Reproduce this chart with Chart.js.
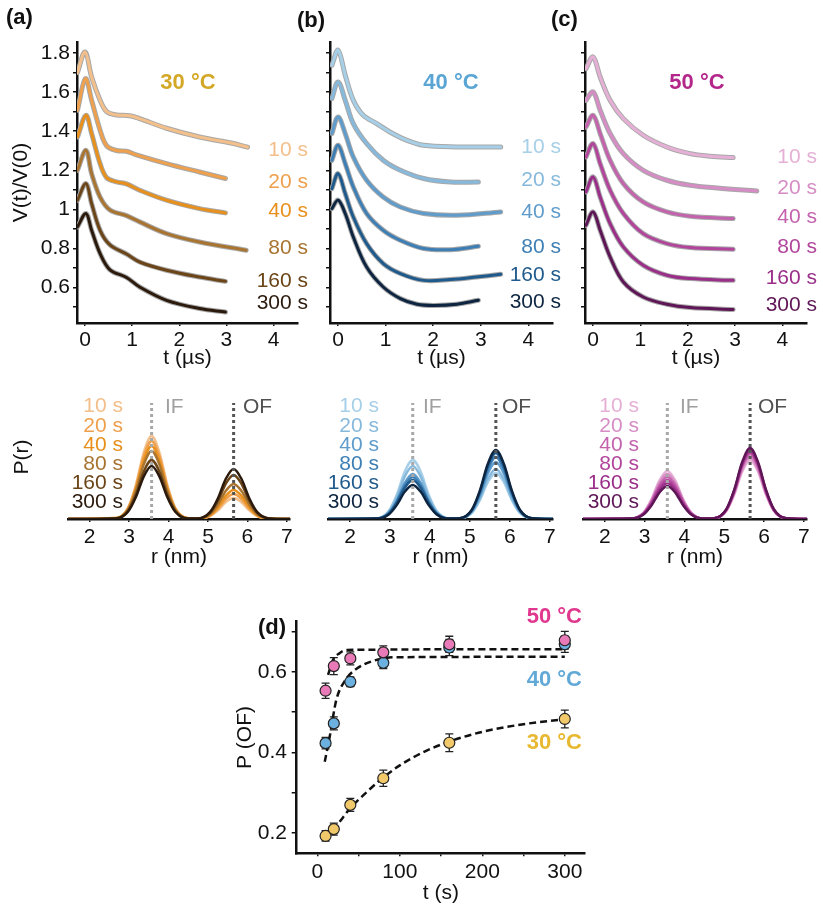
<!DOCTYPE html>
<html>
<head>
<meta charset="utf-8">
<script src="https://cdn.jsdelivr.net/npm/chart.js@4.4.1/dist/chart.umd.min.js"></script>
<style>
  body { margin: 0; background: #fff; width: 823px; height: 907px; position: relative; overflow: hidden; }
  canvas { position: absolute; }
</style>
</head>
<body>
<canvas id="ta"></canvas>
<canvas id="tb"></canvas>
<canvas id="tc"></canvas>
<canvas id="ra"></canvas>
<canvas id="rb"></canvas>
<canvas id="rc"></canvas>
<canvas id="pd"></canvas>
<script>
// ---- data ----
const ageLabels = ['10 s', '20 s', '40 s', '80 s', '160 s', '300 s'];

// DEER traces, [t (µs), V(t)/V(0) + offset]
const a10 = [[-0.16,1.70],[0,1.805],[0.14,1.677],[0.32,1.558],[0.46,1.500],[0.67,1.483],[0.95,1.479],[1.16,1.464],[1.73,1.415],[2.43,1.370],[3.13,1.338],[3.45,1.318]];
const a20 = [[-0.16,1.507],[0.01,1.669],[0.14,1.558],[0.32,1.405],[0.46,1.325],[0.67,1.301],[0.88,1.297],[1.09,1.279],[1.73,1.234],[2.43,1.191],[2.98,1.158]];
const a40 = [[-0.16,1.370],[0.02,1.481],[0.14,1.388],[0.32,1.234],[0.46,1.162],[0.67,1.141],[0.88,1.130],[1.16,1.098],[1.73,1.047],[2.43,1.004],[2.98,0.982]];
const a80 = [[-0.16,1.200],[0.02,1.302],[0.14,1.183],[0.32,1.063],[0.53,0.997],[0.88,0.968],[1.16,0.936],[1.73,0.876],[2.43,0.833],[3.42,0.791]];
const a160 = [[-0.16,1.047],[0.02,1.132],[0.14,1.030],[0.32,0.893],[0.53,0.818],[0.88,0.772],[1.16,0.731],[1.73,0.689],[2.43,0.654],[2.98,0.632]];
const a300 = [[-0.16,0.910],[0.02,0.979],[0.14,0.893],[0.32,0.774],[0.53,0.691],[0.88,0.652],[1.16,0.603],[1.73,0.535],[2.43,0.493],[2.98,0.475]];

const b10 = [[-0.13,1.737],[0,1.814],[0.15,1.686],[0.32,1.558],[0.53,1.481],[0.81,1.439],[1.09,1.396],[1.45,1.353],[1.80,1.328],[2.50,1.319],[3.06,1.319],[3.42,1.319]];
const b20 = [[-0.13,1.567],[0,1.652],[0.15,1.558],[0.32,1.439],[0.60,1.337],[0.95,1.251],[1.31,1.200],[1.80,1.158],[2.36,1.140],[2.95,1.140]];
const b40 = [[-0.13,1.388],[0,1.473],[0.15,1.388],[0.32,1.268],[0.60,1.149],[0.95,1.063],[1.31,1.012],[1.80,0.979],[2.50,0.970],[3.42,0.987]];
const b80 = [[-0.13,1.251],[0,1.328],[0.15,1.234],[0.32,1.115],[0.60,0.979],[0.95,0.893],[1.31,0.842],[1.80,0.800],[2.36,0.794],[2.95,0.811]];
const b160 = [[-0.13,1.106],[0,1.183],[0.15,1.081],[0.32,0.961],[0.60,0.825],[0.95,0.723],[1.31,0.672],[1.80,0.637],[2.36,0.641],[2.91,0.654],[3.42,0.668]];
const b300 = [[-0.13,1.004],[0,1.047],[0.15,0.979],[0.32,0.859],[0.60,0.705],[0.95,0.603],[1.31,0.544],[1.66,0.515],[2.01,0.509],[2.50,0.515],[2.95,0.535]];

const c10 = [[-0.15,1.720],[0,1.780],[0.15,1.677],[0.36,1.558],[0.64,1.464],[1.06,1.379],[1.56,1.319],[2.05,1.285],[2.48,1.272],[2.96,1.265]];
const c20 = [[-0.15,1.558],[0,1.601],[0.15,1.507],[0.36,1.388],[0.64,1.285],[1.06,1.200],[1.56,1.149],[2.05,1.123],[2.62,1.109],[3.46,1.094]];
const c40 = [[-0.15,1.421],[0,1.481],[0.15,1.388],[0.36,1.251],[0.64,1.132],[1.06,1.038],[1.56,0.987],[2.05,0.965],[2.96,0.953]];
const c80 = [[-0.15,1.268],[0,1.337],[0.15,1.234],[0.36,1.098],[0.64,0.979],[1.06,0.876],[1.56,0.825],[2.05,0.805],[2.96,0.796]];
const c160 = [[-0.15,1.089],[0,1.166],[0.15,1.063],[0.36,0.927],[0.64,0.808],[1.06,0.714],[1.56,0.663],[2.05,0.646],[2.96,0.637]];
const c300 = [[-0.15,0.919],[0,0.987],[0.15,0.893],[0.36,0.757],[0.64,0.629],[1.06,0.552],[1.56,0.515],[2.05,0.498],[2.96,0.488]];

const vTicks = [0.6, 0.8, 1, 1.2, 1.4, 1.6, 1.8];
const tTicks = [0, 1, 2, 3, 4];

// distance distributions P(r), arbitrary units
const rGrid = [1.45, 2.67, 2.97, 3.17, 3.37, 3.57, 3.77, 3.97, 4.17, 4.47, 4.75, 5.05, 5.25, 5.45, 5.65, 5.85, 6.05, 6.25, 6.55, 7.08];
const pa10 = [0,.009,.112,.340,.664,.83,.664,.340,.112,.009,.002,.028,.086,.168,.21,.168,.086,.028,.002,0];
const pa20 = [0,.009,.105,.320,.624,.78,.624,.320,.105,.009,.003,.034,.103,.200,.25,.200,.103,.034,.003,0];
const pa40 = [0,.008,.099,.299,.584,.73,.584,.299,.099,.008,.003,.039,.119,.232,.29,.232,.119,.039,.003,0];
const pa80 = [0,.007,.092,.279,.544,.68,.544,.279,.092,.007,.004,.047,.144,.280,.35,.280,.144,.047,.004,0];
const pa160 = [0,.006,.080,.242,.472,.59,.472,.242,.080,.006,.005,.059,.180,.352,.44,.352,.180,.059,.005,0];
const pa300 = [0,.006,.072,.217,.424,.53,.424,.217,.072,.006,.006,.068,.205,.400,.50,.400,.205,.068,.006,0];
const pb10 = [0,.006,.080,.242,.472,.59,.472,.242,.080,.006,.005,.062,.189,.368,.46,.368,.189,.062,.005,0];
const pb20 = [0,.006,.072,.217,.424,.53,.424,.217,.072,.006,.006,.068,.205,.400,.50,.400,.205,.068,.006,0];
const pb40 = [0,.005,.061,.185,.360,.45,.360,.185,.061,.005,.006,.077,.234,.456,.57,.456,.234,.077,.006,0];
const pb80 = [0,.005,.057,.172,.336,.42,.336,.172,.057,.005,.007,.084,.254,.496,.62,.496,.254,.084,.007,0];
const pb160 = [0,.004,.053,.160,.312,.39,.312,.160,.053,.004,.007,.089,.271,.528,.66,.528,.271,.089,.007,0];
const pb300 = [0,.004,.046,.139,.272,.34,.272,.139,.046,.004,.008,.093,.283,.552,.69,.552,.283,.093,.008,0];
const pc10 = [0,.005,.065,.197,.384,.48,.384,.197,.065,.005,.006,.080,.242,.472,.59,.472,.242,.080,.006,0];
const pc20 = [0,.005,.061,.185,.360,.45,.360,.185,.061,.005,.007,.084,.254,.496,.62,.496,.254,.084,.007,0];
const pc40 = [0,.005,.057,.172,.336,.42,.336,.172,.057,.005,.007,.088,.267,.520,.65,.520,.267,.088,.007,0];
const pc80 = [0,.004,.053,.160,.312,.39,.312,.160,.053,.004,.007,.090,.275,.536,.67,.536,.275,.090,.007,0];
const pc160 = [0,.004,.049,.148,.288,.36,.288,.148,.049,.004,.008,.093,.283,.552,.69,.552,.283,.093,.008,0];
const pc300 = [0,.004,.045,.135,.264,.33,.264,.135,.045,.004,.008,.096,.291,.568,.71,.568,.291,.096,.008,0];
const ifDist = 3.57, ofDist = 5.65, markTop = 1.16;
const rTicks = [2, 3, 4, 5, 6, 7];

// (d) P(OF) vs incubation time
const tAging = [10, 20, 40, 80, 160, 300];
const pOF50 = [0.553, 0.614, 0.633, 0.648, 0.668, 0.678];
const err50 = [0.019, 0.021, 0.016, 0.016, 0.020, 0.022];
const pOF40 = [0.423, 0.472, 0.575, 0.622, 0.660, 0.668];
const err40 = [0.014, 0.016, 0.012, 0.014, 0.020, 0.020];
const pOF30 = [0.193, 0.210, 0.270, 0.336, 0.424, 0.483];
const err30 = [0.013, 0.015, 0.016, 0.020, 0.022, 0.022];
const fit50T = [13, 19, 27, 36, 300];
const fit50 = [0.592, 0.629, 0.646, 0.654, 0.656];
const fit40T = [9, 15, 23, 34, 48, 68, 96, 300];
const fit40 = [0.377, 0.439, 0.530, 0.579, 0.608, 0.627, 0.636, 0.637];
const fit30T = [27, 40, 60, 80, 100, 130, 160, 200, 250, 300];
const fit30 = [0.228, 0.262, 0.302, 0.338, 0.368, 0.402, 0.427, 0.451, 0.470, 0.482];
const dXTicks = [0, 50, 100, 150, 200, 250, 300];
const dXLabels = [0, 100, 200, 300];
const dYTicks = [0.2, 0.4, 0.6];

// ---- styling ----
const FONT = "'Liberation Sans', Arial, sans-serif";
const INK = '#111';
const orange = ['#f3bf8a', '#efa04c', '#e8901c', '#a87430', '#6b4418', '#2b1a0c'];
const blue = ['#a6cfe8', '#86b9dc', '#5f9ccb', '#3d7fb5', '#1f5a8c', '#0d2540'];
const purple = ['#e6b0d6', '#d68cc4', '#c462ae', '#b2449c', '#9a2e88', '#5e1656'];

Chart.defaults.font.family = FONT;
Chart.defaults.color = INK;

function place(el, g) {
  el.width = g.w; el.height = g.h;
  el.style.left = g.left + 'px'; el.style.top = g.top + 'px';
  el.style.width = g.w + 'px'; el.style.height = g.h + 'px';
}

function pick(list) {
  return v => {
    const m = list.find(t => Math.abs(t - v) < 1e-6);
    return m === undefined ? '' : String(m);
  };
}

function textPlugin(items, g) {
  return {
    id: 'texts',
    afterDraw(chart) {
      const ctx = chart.ctx;
      ctx.save();
      items.forEach(t => {
        ctx.font = (t.bold ? 'bold ' : '') + (t.size || 21) + 'px ' + FONT;
        ctx.fillStyle = t.color || INK;
        ctx.textAlign = t.align || 'left';
        ctx.textBaseline = 'middle';
        ctx.fillText(t.text, t.x - g.left, t.y - g.top);
      });
      ctx.restore();
    }
  };
}

const errorBars = {
  id: 'errorBars',
  beforeDatasetsDraw(chart) {
    const ctx = chart.ctx, xs = chart.scales.x, ys = chart.scales.y;
    ctx.save();
    ctx.strokeStyle = '#222';
    ctx.lineWidth = 1.3;
    chart.data.datasets.forEach(ds => {
      if (!ds.errs) return;
      ds.data.forEach((p, i) => {
        const x = xs.getPixelForValue(p.x);
        const y1 = ys.getPixelForValue(p.y - ds.errs[i]);
        const y2 = ys.getPixelForValue(p.y + ds.errs[i]);
        ctx.beginPath();
        ctx.moveTo(x, y1); ctx.lineTo(x, y2);
        ctx.moveTo(x - 4, y1); ctx.lineTo(x + 4, y1);
        ctx.moveTo(x - 4, y2); ctx.lineTo(x + 4, y2);
        ctx.stroke();
      });
    });
    ctx.restore();
  }
};

function axisX(g, min, max, step, labels, title, tickPad, titlePad) {
  return {
    type: 'linear', min: min, max: max,
    afterFit: s => { s.height = g.top + g.h - g.caB; },
    border: { color: INK, width: 2.5 },
    grid: { display: true, drawOnChartArea: false, drawTicks: true, tickLength: 3, color: INK, lineWidth: 1.5 },
    ticks: { stepSize: step, includeBounds: false, padding: tickPad, maxRotation: 0, autoSkip: false,
             font: { size: 21 }, color: INK, callback: pick(labels) },
    title: { display: true, text: title, color: INK, font: { size: 21 }, padding: { top: 0, bottom: titlePad } }
  };
}

function baseOptions(g, scales) {
  return {
    responsive: false, animation: false, devicePixelRatio: 1,
    layout: { padding: { left: 0, top: g.caT - g.top, right: g.left + g.w - g.caR, bottom: 0 } },
    plugins: { legend: { display: false }, tooltip: { enabled: false } },
    scales: scales
  };
}

// ---- top row: DEER traces ----
function traceChart(id, g, series, colors, labelX, labelY, texts, yTitle) {
  const el = document.getElementById(id);
  place(el, g);
  const datasets = [];
  series.forEach((s, i) => {
    datasets.push({ data: s, borderColor: '#a8a8a8', borderWidth: 5, order: 20 });
    datasets.push({ data: s, borderColor: colors[i], borderWidth: 3, order: 10 });
  });
  datasets.forEach(d => Object.assign(d, { pointRadius: 0, fill: false, tension: 0.35, borderCapStyle: 'round' }));
  const items = texts.slice();
  ageLabels.forEach((t, i) => items.push({ text: t, x: labelX, y: labelY[i], color: colors[i], align: 'right' }));
  new Chart(el, {
    type: 'line',
    data: { datasets: datasets },
    options: baseOptions(g, {
      x: axisX(g, -0.17, 4.52, 1, tTicks, 't (µs)', 1.5, 4.4),
      y: {
        type: 'linear', min: 0.419, max: 1.856,
        afterFit: s => { s.width = g.caL - g.left; },
        border: { color: INK, width: 2.5 },
        grid: { display: true, drawOnChartArea: false, drawTicks: true, tickLength: 4, color: INK, lineWidth: 1.5 },
        ticks: { stepSize: 0.1, includeBounds: false, padding: 3, autoSkip: false, font: { size: 21 }, color: INK,
                 callback: yTitle ? pick(vTicks) : () => '' },
        title: { display: !!yTitle, text: yTitle || '', color: INK, font: { size: 21 }, padding: { top: 9, bottom: 0 } }
      }
    }),
    plugins: [textPlugin(items, g)]
  });
}

traceChart('ta', { left: 0, top: 0, w: 312, h: 375, caL: 77, caR: 298, caT: 42, caB: 323 },
  [a10, a20, a40, a80, a160, a300], orange, 308, [150, 182, 211, 248, 281, 303],
  [{ text: '(a)', x: 6, y: 18, bold: true, size: 22 },
   { text: '30 °C', x: 188, y: 83, bold: true, size: 22, color: '#d4a827', align: 'center' }], 'V(t)/V(0)');

traceChart('tb', { left: 295, top: 0, w: 271, h: 375, caL: 330, caR: 553, caT: 42, caB: 323 },
  [b10, b20, b40, b80, b160, b300], blue, 561, [147, 180, 212, 247, 275, 302],
  [{ text: '(b)', x: 297, y: 21, bold: true, size: 22 },
   { text: '40 °C', x: 451, y: 83, bold: true, size: 22, color: '#5aa5d4', align: 'center' }], null);

traceChart('tc', { left: 545, top: 0, w: 278, h: 375, caL: 585, caR: 807, caT: 42, caB: 323 },
  [c10, c20, c40, c80, c160, c300], purple, 817, [157, 188, 217, 247, 278, 305],
  [{ text: '(c)', x: 551, y: 20, bold: true, size: 22 },
   { text: '50 °C', x: 697, y: 83, bold: true, size: 22, color: '#b3268a', align: 'center' }], null);

// ---- middle row: distance distributions ----
function distChart(id, g, series, colors, labelRight, ifX, ofX, yTitle) {
  const el = document.getElementById(id);
  place(el, g);
  const datasets = series.map((vals, i) => ({
    data: rGrid.map((r, k) => ({ x: r, y: vals[k] })),
    borderColor: colors[i], borderWidth: 2.5, pointRadius: 0, fill: false,
    cubicInterpolationMode: 'monotone', order: 10 - i
  }));
  datasets.push({ data: [{ x: ifDist, y: 0 }, { x: ifDist, y: markTop }], borderColor: '#a8a8a8', borderWidth: 3, borderDash: [3, 3], pointRadius: 0, order: 0 });
  datasets.push({ data: [{ x: ofDist, y: 0 }, { x: ofDist, y: markTop }], borderColor: '#555', borderWidth: 3, borderDash: [3, 3], pointRadius: 0, order: 0 });
  const rows = [406, 426, 445, 464, 483, 502];
  const items = ageLabels.map((t, i) => ({ text: t, x: labelRight, y: rows[i], color: colors[i], align: 'right' }));
  items.push({ text: 'IF', x: ifX, y: 407, color: '#a0a0a0' });
  items.push({ text: 'OF', x: ofX, y: 407, color: '#505050' });
  new Chart(el, {
    type: 'line',
    data: { datasets: datasets },
    options: baseOptions(g, {
      x: axisX(g, 1.45, 7.08, 1, rTicks, 'r (nm)', 2.4, 5.4),
      y: {
        type: 'linear', min: 0, max: 1.24,
        afterFit: s => { s.width = g.caL - g.left; },
        border: { display: false }, grid: { display: false }, ticks: { display: false },
        title: { display: !!yTitle, text: yTitle || '', color: INK, font: { size: 21 }, padding: { top: 10, bottom: 0 } }
      }
    }),
    plugins: [textPlugin(items, g)]
  });
}

distChart('ra', { left: 0, top: 380, w: 300, h: 195, caL: 68, caR: 290, caT: 395, caB: 519 },
  [pa10, pa20, pa40, pa80, pa160, pa300], orange, 123, 165, 243, 'P(r)');
distChart('rb', { left: 290, top: 380, w: 275, h: 195, caL: 328, caR: 553, caT: 395, caB: 519 },
  [pb10, pb20, pb40, pb80, pb160, pb300], blue, 379, 423, 502, null);
distChart('rc', { left: 545, top: 380, w: 278, h: 195, caL: 583, caR: 807, caT: 395, caB: 519 },
  [pc10, pc20, pc40, pc80, pc160, pc300], purple, 639, 680, 758, null);

// ---- panel (d) ----
(function () {
  const g = { left: 230, top: 590, w: 380, h: 317, caL: 296.7, caR: 585, caT: 621.7, caB: 853.3 };
  const el = document.getElementById('pd');
  place(el, g);
  const pts = (ys) => tAging.map((t, i) => ({ x: t, y: ys[i] }));
  const line = (ts, ys) => ts.map((t, i) => ({ x: t, y: ys[i] }));
  const fitStyle = { borderColor: INK, borderWidth: 2.5, borderDash: [7, 4], pointRadius: 0, fill: false, cubicInterpolationMode: 'monotone', order: 5 };
  const dotStyle = (c, ord) => ({ showLine: false, pointRadius: 5.5, pointBackgroundColor: c, pointBorderColor: '#222', pointBorderWidth: 1.2, order: ord });
  const xAxis = axisX(g, -25, 324.5, 50, dXLabels, 't (s)', 3, 1.4);
  xAxis.afterBuildTicks = s => { s.ticks = dXTicks.map(v => ({ value: v })); };
  new Chart(el, {
    type: 'line',
    data: {
      datasets: [
        Object.assign({ data: line(fit50T, fit50) }, fitStyle),
        Object.assign({ data: line(fit40T, fit40) }, fitStyle),
        Object.assign({ data: line(fit30T, fit30) }, fitStyle),
        Object.assign({ data: pts(pOF30), errs: err30 }, dotStyle('#f2c96a', 2)),
        Object.assign({ data: pts(pOF40), errs: err40 }, dotStyle('#6cb0e0', 1)),
        Object.assign({ data: pts(pOF50), errs: err50 }, dotStyle('#e87ab8', 0))
      ]
    },
    options: baseOptions(g, {
      x: xAxis,
      y: {
        type: 'linear', min: 0.15, max: 0.724,
        afterFit: s => { s.width = g.caL - g.left; },
        border: { color: INK, width: 2.5 },
        grid: { display: true, drawOnChartArea: false, drawTicks: true, tickLength: 5, color: INK, lineWidth: 1.5 },
        ticks: { stepSize: 0.1, includeBounds: false, padding: 4.7, autoSkip: false, font: { size: 21 }, color: INK,
                 callback: v => { const m = dYTicks.find(t => Math.abs(t - v) < 1e-6); return m === undefined ? '' : m.toFixed(1); } },
        title: { display: true, text: 'P (OF)', color: INK, font: { size: 21 }, padding: { top: 2.4, bottom: 0 } }
      }
    }),
    plugins: [errorBars, textPlugin([
      { text: '(d)', x: 258, y: 628, bold: true, size: 22 },
      { text: '50 °C', x: 582, y: 617, bold: true, size: 22, color: '#e0388f', align: 'right' },
      { text: '40 °C', x: 582, y: 680, bold: true, size: 22, color: '#62a9d8', align: 'right' },
      { text: '30 °C', x: 582, y: 743, bold: true, size: 22, color: '#e8b830', align: 'right' }
    ], g)]
  });
})();
</script>
</body>
</html>
